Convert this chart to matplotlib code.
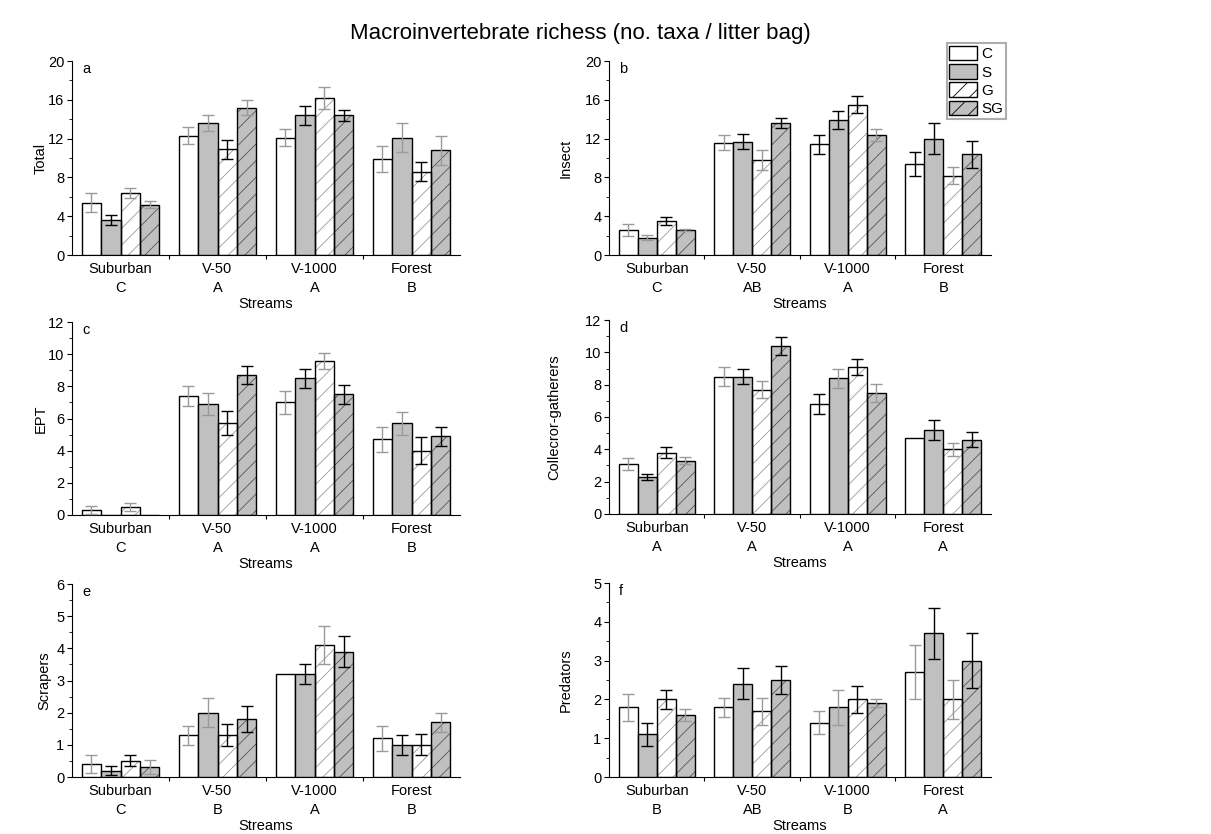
import matplotlib.pyplot as plt
import numpy as np
from matplotlib.patches import Patch
from matplotlib.ticker import AutoMinorLocator, MultipleLocator

plt.rcParams['font.family'] = ['Liberation Sans', 'DejaVu Sans']
plt.rcParams['hatch.linewidth'] = 0.6

streams = ["Suburban", "V-50", "V-1000", "Forest"]
treatments = ["C", "S", "G", "SG"]

# rows follow treatments (C, S, G, SG), columns follow streams
total_mean = [[5.4, 12.3, 12.1, 9.9], [3.6, 13.6, 14.4, 12.1],
              [6.4, 10.9, 16.2, 8.6], [5.2, 15.2, 14.4, 10.8]]
total_se = [[1.0, 0.85, 0.9, 1.3], [0.5, 0.8, 0.95, 1.5],
            [0.5, 1.0, 1.15, 1.0], [0.4, 0.8, 0.55, 1.5]]
total_letters = ["C", "A", "A", "B"]

insect_mean = [[2.6, 11.6, 11.4, 9.4], [1.8, 11.7, 13.9, 12.0],
               [3.5, 9.8, 15.5, 8.2], [2.6, 13.6, 12.4, 10.4]]
insect_se = [[0.6, 0.8, 0.95, 1.2], [0.3, 0.8, 0.9, 1.6],
             [0.4, 1.0, 0.85, 0.9], [0.1, 0.5, 0.6, 1.4]]
insect_letters = ["C", "AB", "A", "B"]

ept_mean = [[0.3, 7.4, 7.0, 4.7], [0.0, 6.9, 8.5, 5.7],
            [0.5, 5.7, 9.6, 4.0], [0.0, 8.7, 7.5, 4.9]]
ept_se = [[0.25, 0.65, 0.7, 0.8], [0.0, 0.7, 0.6, 0.7],
          [0.25, 0.75, 0.5, 0.85], [0.0, 0.55, 0.6, 0.6]]
ept_letters = ["C", "A", "A", "B"]

collector_mean = [[3.1, 8.5, 6.8, 4.7], [2.3, 8.5, 8.4, 5.2],
                  [3.8, 7.7, 9.1, 4.0], [3.3, 10.4, 7.5, 4.6]]
collector_se = [[0.35, 0.6, 0.6, 0.0], [0.2, 0.45, 0.6, 0.6],
                [0.35, 0.55, 0.5, 0.4], [0.2, 0.55, 0.55, 0.45]]
collector_letters = ["A", "A", "A", "A"]

scraper_mean = [[0.4, 1.3, 3.2, 1.2], [0.2, 2.0, 3.2, 1.0],
                [0.5, 1.3, 4.1, 1.0], [0.3, 1.8, 3.9, 1.7]]
scraper_se = [[0.27, 0.3, 0.0, 0.38], [0.13, 0.45, 0.32, 0.3],
              [0.17, 0.35, 0.6, 0.33], [0.22, 0.4, 0.48, 0.3]]
scraper_letters = ["C", "B", "A", "B"]

predator_mean = [[1.8, 1.8, 1.4, 2.7], [1.1, 2.4, 1.8, 3.7],
                 [2.0, 1.7, 2.0, 2.0], [1.6, 2.5, 1.9, 3.0]]
predator_se = [[0.35, 0.25, 0.3, 0.7], [0.3, 0.4, 0.45, 0.65],
               [0.25, 0.35, 0.35, 0.5], [0.15, 0.35, 0.1, 0.7]]
predator_letters = ["B", "AB", "B", "A"]

# error bar tone per bar: k = black, g = light grey
ERR_TONE = {
    "a": ["gggg", "kgkg", "gkgk", "ggkg"],
    "b": ["ggkk", "gkkk", "kgkg", "gkgk"],
    "c": ["gggg", "ggkg", "gkgk", "gkkk"],
    "d": ["ggkg", "kkgk", "kgkg", "gkgk"],
    "e": ["gggg", "kgkk", "kkgk", "gkkg"],
    "f": ["gggg", "kkgk", "kgkg", "gkgk"],
}
TONES = {"k": "black", "g": "#9a9a9a"}

FILL = {"C": "white", "S": "#c0c0c0", "G": "white", "SG": "#c0c0c0"}
HATCH = {"C": None, "S": None, "G": "//", "SG": "//"}
HATCH_COLOR = {"G": "#9a9a9a", "SG": "#555555"}

# panel tag, y label, data, y max, tick step, axes rect, y label x (axes fraction)
panels = [
    ("a", "Total", total_mean, total_se, total_letters, 20, 4,
     [0.0595, 0.6942, 0.3204, 0.2326], -0.062),
    ("b", "Insect", insect_mean, insect_se, insect_letters, 20, 4,
     [0.5029, 0.6942, 0.3154, 0.2326], -0.094),
    ("c", "EPT", ept_mean, ept_se, ept_letters, 12, 2,
     [0.0595, 0.3825, 0.3204, 0.2314], -0.062),
    ("d", "Collecror-gatherers", collector_mean, collector_se, collector_letters, 12, 2,
     [0.5029, 0.3837, 0.3154, 0.2326], -0.125),
    ("e", "Scrapers", scraper_mean, scraper_se, scraper_letters, 6, 1,
     [0.0595, 0.0683, 0.3204, 0.2314], -0.054),
    ("f", "Predators", predator_mean, predator_se, predator_letters, 5, 1,
     [0.5029, 0.0683, 0.3154, 0.2326], -0.094),
]

fig = plt.figure(figsize=(12.11, 8.34), dpi=100)
fig.text(0.479, 0.960, "Macroinvertebrate richess (no. taxa / litter bag)",
         ha="center", va="center", fontsize=16)

x = np.arange(len(streams))
width = 0.2

for tag, ylabel, means, ses, letters, ymax, step, rect, label_x in panels:
    ax = fig.add_axes(rect)
    for i, trt in enumerate(treatments):
        xpos = x + (i - 1.5) * width
        vals = np.array(means[i])
        errs = np.array(ses[i])
        if HATCH[trt]:
            ax.bar(xpos, vals, width, color=FILL[trt], hatch=HATCH[trt],
                   edgecolor=HATCH_COLOR[trt], linewidth=0, zorder=2)
            ax.bar(xpos, vals, width, fill=False, edgecolor="black",
                   linewidth=1.0, zorder=3)
        else:
            ax.bar(xpos, vals, width, color=FILL[trt], edgecolor="black",
                   linewidth=1.0, zorder=3)
        for j in range(len(streams)):
            if vals[j] <= 0 or errs[j] <= 0:
                continue
            ax.errorbar(xpos[j], vals[j], yerr=errs[j], fmt="none",
                        ecolor=TONES[ERR_TONE[tag][i][j]], elinewidth=1.0,
                        capsize=4.5, capthick=1.0, zorder=4)

    ax.set_xlim(-0.5, 3.5)
    ax.set_ylim(0, ymax)
    ax.yaxis.set_major_locator(MultipleLocator(step))
    ax.yaxis.set_minor_locator(AutoMinorLocator(2))
    ax.set_xticks([0.5, 1.5, 2.5])
    ax.set_xticklabels([])
    ax.set_xticks(x, minor=True)
    ax.set_xticklabels([f"{s}\n{l}" for s, l in zip(streams, letters)],
                       minor=True, fontsize=10.5, linespacing=1.5)
    ax.tick_params(axis="x", which="minor", length=0, pad=5)
    ax.tick_params(axis="x", which="major", length=3, direction="out")
    ax.tick_params(axis="y", which="major", length=3.5, pad=2, labelsize=10.5)
    ax.tick_params(axis="y", which="minor", length=2)
    for side in ("top", "right"):
        ax.spines[side].set_visible(False)
    ax.set_ylabel(ylabel, fontsize=10.5)
    ax.yaxis.set_label_coords(label_x, 0.5)
    ax.set_xlabel("Streams", fontsize=10.5, labelpad=1)
    ax.text(0.027, 0.96, tag, transform=ax.transAxes, ha="left", va="center",
            fontsize=10.5)

handles = [
    Patch(facecolor="white", edgecolor="black"),
    Patch(facecolor="#c0c0c0", edgecolor="black"),
    Patch(facecolor="white", edgecolor="black", hatch="//"),
    Patch(facecolor="#c0c0c0", edgecolor="black", hatch="//"),
]
leg = fig.legend(handles, treatments, loc="upper right",
                 bbox_to_anchor=(0.8307, 0.9484), fontsize=11, frameon=True,
                 fancybox=False, handlelength=1.8, handleheight=1.1,
                 handletextpad=0.3, labelspacing=0.18, borderpad=0.18,
                 borderaxespad=0)
leg.get_frame().set_edgecolor("#999999")
leg.get_frame().set_linewidth(1.5)

fig.savefig("out.png", dpi=100)
